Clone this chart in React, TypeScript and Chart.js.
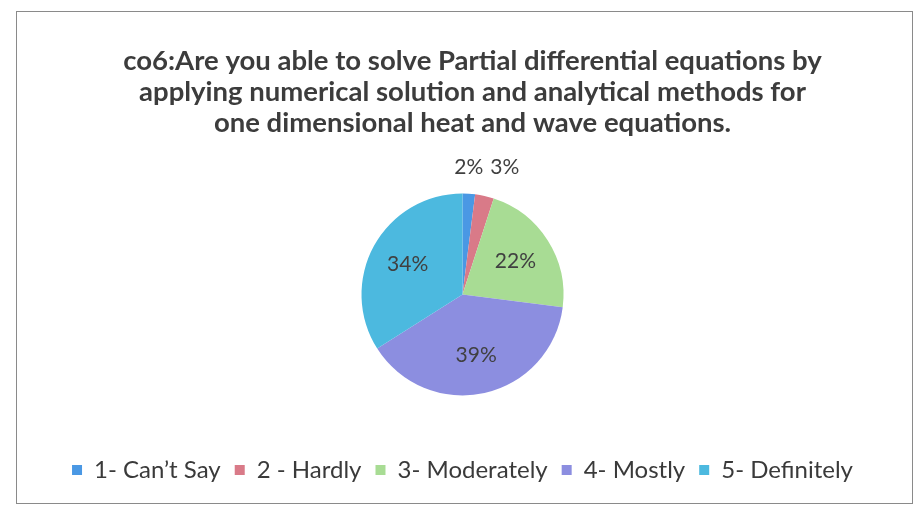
import React, { useEffect, useRef } from "react";
import { Chart, registerables } from "chart.js";

Chart.register(...registerables);

const titleLines = [
  "co6:Are you able to solve Partial differential equations by",
  "applying numerical solution and analytical methods for",
  "one dimensional heat and wave equations.",
];
const categories = ["1- Can\u2019t Say", "2 - Hardly", "3- Moderately", "4- Mostly", "5- Definitely"];
const percents = [2, 3, 22, 39, 34];
const colors = ["#4a98e4", "#d97a88", "#a8dc94", "#8c8ee0", "#4cb9df"];

const FONT = "Lato, 'Open Sans', sans-serif";

const titlePlugin = {
  id: "offsetTitle",
  afterDraw(chart: any) {
    const ctx = chart.ctx;
    ctx.save();
    ctx.font = `bold 27.5px ${FONT}`;
    ctx.fillStyle = "#3c3c3c";
    ctx.textAlign = "center";
    ctx.textBaseline = "middle";
    const cx = chart.width / 2 + 8;
    titleLines.forEach((line, i) => {
      ctx.fillText(line, cx, 49 + i * 31);
    });
    ctx.restore();
  },
};

const labelPlugin = {
  id: "pctLabels",
  afterDatasetsDraw(chart: any) {
    const ctx = chart.ctx;
    const meta = chart.getDatasetMeta(0);
    ctx.save();
    ctx.font = `21px ${FONT}`;
    ctx.fillStyle = "#404040";
    ctx.textAlign = "center";
    ctx.textBaseline = "middle";
    let prevRight = -Infinity;
    meta.data.forEach((arc: any, i: number) => {
      const v = percents[i];
      const text = v + "%";
      const mid = (arc.startAngle + arc.endAngle) / 2;
      const r = arc.outerRadius;
      if (v < 5) {
        const w = ctx.measureText(text).width;
        const ax = arc.x + Math.cos(mid) * r;
        const x = Math.max(ax, prevRight + 7 + w / 2);
        const y = arc.y - r - 26;
        ctx.fillText(text, x, y);
        prevRight = x + w / 2;
      } else {
        const x = arc.x + Math.cos(mid) * r * 0.62;
        const y = arc.y + Math.sin(mid) * r * 0.62;
        ctx.fillText(text, x, y);
      }
    });
    ctx.restore();
  },
};

export default function App() {
  const ref = useRef<HTMLCanvasElement>(null);
  useEffect(() => {
    if (!ref.current) return;
    const chart = new Chart(ref.current, {
      type: "pie",
      data: {
        labels: categories,
        datasets: [
          {
            data: percents,
            backgroundColor: colors,
            borderWidth: 0,
          },
        ],
      },
      options: {
        animation: false,
        responsive: true,
        maintainAspectRatio: false,
        radius: 101,
        layout: { padding: { left: 0, right: 4, top: 133, bottom: 11 } },
        plugins: {
          title: { display: false },
          legend: {
            position: "bottom",
            labels: {
              color: "#3a3a3a",
              font: { family: FONT, size: 24 },
              boxWidth: 10,
              boxHeight: 10,
              padding: 14,
            },
          },
          tooltip: { enabled: false },
        },
      },
      plugins: [labelPlugin, titlePlugin],
    });
    return () => chart.destroy();
  }, []);
  return (
    <div
      style={{
        position: "absolute",
        left: 16,
        top: 11,
        width: 897,
        height: 493,
        border: "1px solid #8a8a8a",
        boxSizing: "border-box",
        background: "#fff",
      }}
    >
      <canvas ref={ref} />
    </div>
  );
}
